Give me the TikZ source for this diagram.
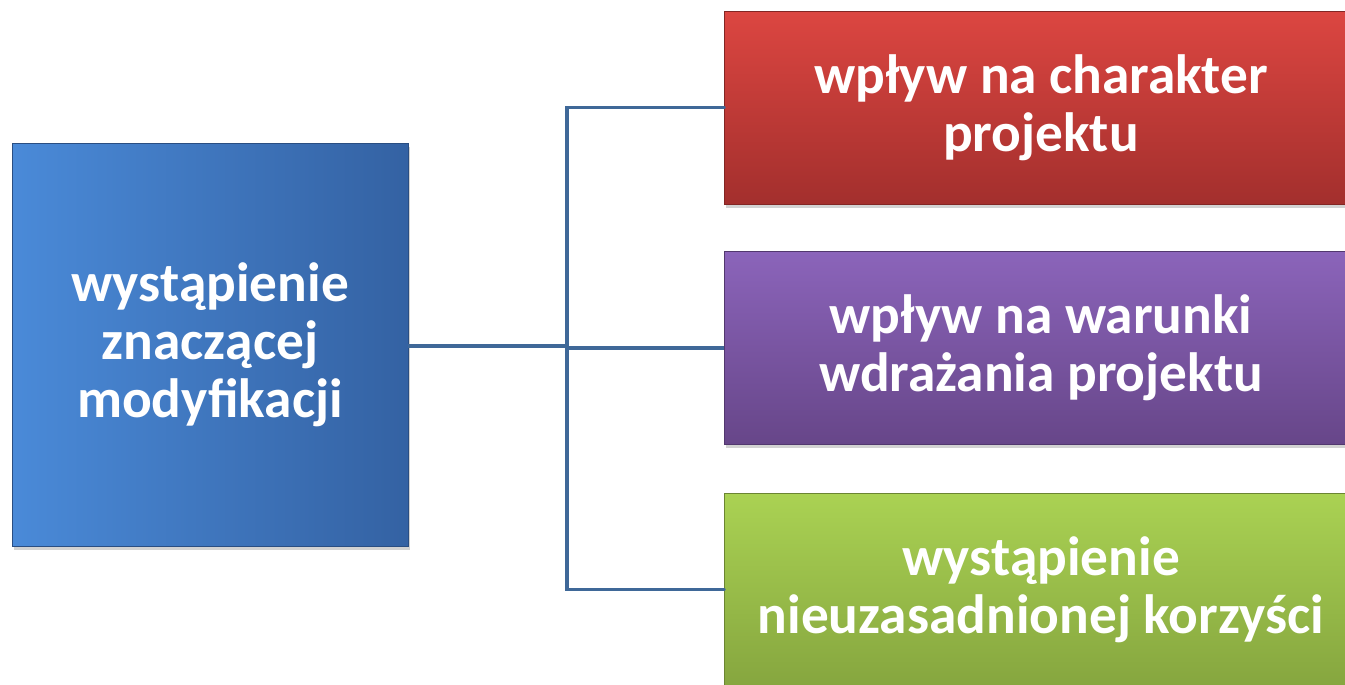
\documentclass[tikz,border=0pt]{standalone}
\usepackage{fontspec}
\setmainfont{Carlito}
\usetikzlibrary{shadows}

\definecolor{linkblue}{HTML}{3F6898}
\definecolor{blueL}{HTML}{4A8AD8}
\definecolor{blueR}{HTML}{3462A3}
\definecolor{redT}{HTML}{DC4641}
\definecolor{redB}{HTML}{A32F2D}
\definecolor{violT}{HTML}{8B64BA}
\definecolor{violB}{HTML}{674689}
\definecolor{greenT}{HTML}{AAD253}
\definecolor{greenB}{HTML}{86A63F}

\begin{document}
\begin{tikzpicture}[x=0.02cm, y=-0.02cm,
  box/.style={rectangle, inner sep=0pt, align=center, text=white,
    font=\fontsize{31.5}{33}\selectfont\bfseries,
    drop shadow={opacity=0.35, shadow xshift=0.04cm, shadow yshift=-0.08cm}},
  leftbox/.style={box, minimum width=7.92cm, minimum height=8.06cm,
    left color=blueL, right color=blueR, draw=blueR!80!black, line width=0.4pt},
  rightbox/.style={box, minimum width=12.68cm, minimum height=3.86cm},
  link/.style={draw=linkblue, line width=2.2pt}]
\useasboundingbox (0,0) rectangle (1345,685);
\fill[white] (0,0) rectangle (1345,685);

\node[leftbox] (modyf) at (210,344.5) {wystąpienie\\znaczącej\\modyfikacji};

\node[rightbox, top color=redT, bottom color=redB, draw=redB!80!black] (charakter) at (1041,107.5) {wpływ na charakter\\projektu};
\node[rightbox, top color=violT, bottom color=violB, draw=violB!80!black] (warunki) at (1041,348) {wpływ na warunki\\wdrażania projektu};
\node[rightbox, top color=greenT, bottom color=greenB, draw=greenB!80!black] (korzysc) at (1041,589.5) {wystąpienie\\nieuzasadnionej korzyści};

\coordinate (split) at (567,346);
\draw[link] (modyf.east |- split) -- (split);
\draw[link, line cap=round] (split) |- (charakter.west);
\draw[link] (split) -- (split |- warunki.west) -- (warunki.west);
\draw[link, line cap=round] (split) |- (korzysc.west);
\end{tikzpicture}
\end{document}
